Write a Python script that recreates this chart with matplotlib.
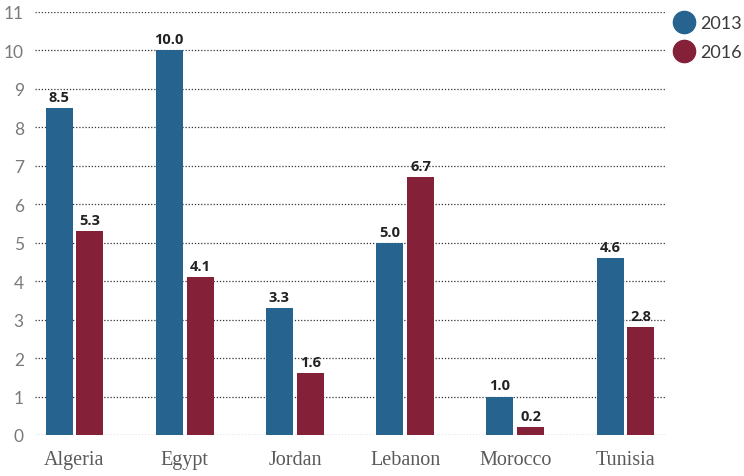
import numpy as np
import matplotlib.pyplot as plt
from matplotlib.lines import Line2D

# Data
countries = ["Algeria", "Egypt", "Jordan", "Lebanon", "Morocco", "Tunisia"]
vals_2013 = [8.5, 10.0, 3.3, 5.0, 1.0, 4.6]
vals_2016 = [5.3, 4.1, 1.6, 6.7, 0.2, 2.8]
years = ["2013", "2016"]
yticks = list(range(0, 12))

blue = "#27638f"
red = "#842037"

fig = plt.figure(figsize=(7.44, 4.77), dpi=100)
ax = fig.add_axes([35 / 744, 1 - 436 / 477, 630 / 744, 423 / 477])

x = np.arange(len(countries))
w = 0.245
off = 0.14
b1 = ax.bar(x - off, vals_2013, w, color=blue, zorder=3)
b2 = ax.bar(x + off, vals_2016, w, color=red, zorder=3)

for bars, vals in ((b1, vals_2013), (b2, vals_2016)):
    for bar, v in zip(bars, vals):
        ax.annotate(f"{v:.1f}", (bar.get_x() + bar.get_width() / 2, v),
                    xytext=(0, 3), textcoords="offset points",
                    ha="center", va="bottom", fontsize=10.5, fontweight="bold",
                    family="Open Sans", color="#222222", zorder=4)

ax.set_xlim(-0.358, len(countries) - 1 + 0.358)
ax.set_ylim(0, 11)
ax.set_yticks(yticks)
ax.set_yticklabels([str(t) for t in yticks], family="Lato", fontsize=12.5,
                   color="#7a7a7a")
ax.set_xticks(x)
ax.set_xticklabels(countries, family="Liberation Serif", fontsize=14.5,
                   color="#5a5a5a")
ax.tick_params(axis="y", length=0, pad=8)
ax.tick_params(axis="x", length=0, pad=11)
ax.grid(axis="y", linestyle=(0, (1, 1.5)), color="#333333", linewidth=0.9,
        zorder=0)
for s in ax.spines.values():
    s.set_visible(False)

handles = [Line2D([], [], marker="o", linestyle="none", markersize=16,
                  markerfacecolor=c, markeredgecolor=c) for c in (blue, red)]
leg = fig.legend(handles, years, loc="upper left",
                 bbox_to_anchor=(657 / 744, 1 - 0 / 477), frameon=False,
                 prop={"family": "Lato", "size": 13}, labelspacing=0.7,
                 handletextpad=0.3, handlelength=1.2)
for t in leg.get_texts():
    t.set_color("#3a3a3a")

fig.savefig("out.png", dpi=100)
